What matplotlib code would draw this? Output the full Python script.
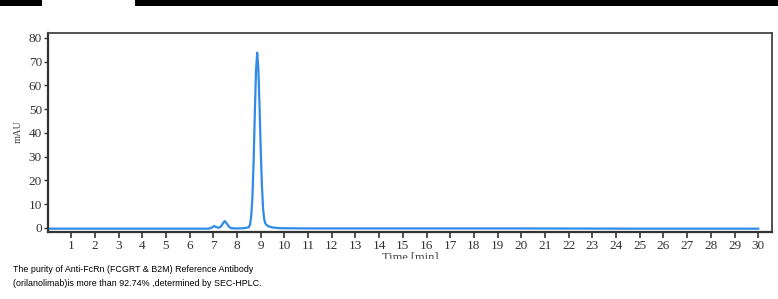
import matplotlib
matplotlib.use("Agg")
import matplotlib.pyplot as plt
from matplotlib.patches import Rectangle

# Chromatogram samples (time in min, signal in mAU)
time_min = [0.05, 2.0, 4.0, 6.0, 6.8, 6.95, 7.03, 7.1, 7.2, 7.3, 7.4, 7.48, 7.56,
            7.65, 7.75, 8.0, 8.3, 8.5, 8.55, 8.6, 8.65, 8.7, 8.75, 8.8, 8.85,
            8.9, 8.95, 9.0, 9.05, 9.1, 9.15, 9.2, 9.3, 9.5, 9.8, 11.0, 15.0,
            20.0, 25.0, 30.0]
signal_mau = [-0.3, -0.3, -0.3, -0.3, -0.3, 0.2, 0.8, 0.5, 0.1, 0.4, 1.8, 2.9, 2.0,
              0.6, -0.1, -0.2, -0.1, 0.3, 1.5, 5.0, 13.0, 28.0, 48.0, 66.0, 73.8,
              67.0, 51.0, 33.0, 18.0, 8.0, 3.5, 1.8, 0.8, 0.2, -0.1, -0.2, -0.2,
              -0.2, -0.3, -0.3]

x_ticks = list(range(1, 31))
y_ticks = [0, 10, 20, 30, 40, 50, 60, 70, 80]
x_label = "Time [min]"
y_label = "mAU"
caption_lines = ["The purity of Anti-FcRn (FCGRT & B2M) Reference Antibody",
                 "(orilanolimab)is more than 92.74% ,determined by SEC-HPLC."]

W, H = 778, 299
fig = plt.figure(figsize=(W / 100, H / 100), dpi=100)
fig.patch.set_facecolor("white")

# black bands at top
fig.patches.append(Rectangle((0, 1 - 6 / H), 42 / W, 6 / H, transform=fig.transFigure,
                             facecolor="black", edgecolor="none", zorder=5))
fig.patches.append(Rectangle((135 / W, 1 - 6 / H), 1 - 135 / W, 6 / H, transform=fig.transFigure,
                             facecolor="black", edgecolor="none", zorder=5))

ax = fig.add_axes([47.5 / W, (H - 232) / H, (772 - 47.5) / W, (232 - 33) / H])
ax.plot(time_min, signal_mau, color="#2f8ae8", lw=1.6, solid_joinstyle="round")
ax.set_xlim(0, 30.58)
ax.set_ylim(-1.7, 82.1)
ax.set_xticks(x_ticks)
ax.set_yticks(y_ticks)

serif = ["Liberation Serif", "DejaVu Serif"]
ax.set_xticklabels([str(t) for t in x_ticks], fontsize=9.5, family=serif, color="#333333")
ax.set_yticklabels([str(t) for t in y_ticks], fontsize=9.5, family=serif, color="#333333")
ax.tick_params(axis="x", direction="out", length=4, width=1.2, color="#333333", pad=2)
ax.tick_params(axis="y", direction="out", length=3, width=1.0, color="#333333", pad=1)

for side in ["left", "bottom"]:
    ax.spines[side].set_linewidth(1.6)
    ax.spines[side].set_color("#333333")
for side in ["top", "right"]:
    ax.spines[side].set_linewidth(1.3)
    ax.spines[side].set_color("#444444")

fig.text(18 / W, 1 - 132 / H, y_label, rotation=90, ha="center", va="center",
         fontsize=7.5, family=serif, color="#444444")
fig.text(410 / W, 1 - 252 / H, x_label, ha="center", va="top",
         fontsize=9, family=serif, color="#444444")
# white band cropping the lower part of the x label
fig.patches.append(Rectangle((0, 0), 1, (H - 259) / H, transform=fig.transFigure,
                             facecolor="white", edgecolor="none", zorder=5))

for i, line in enumerate(caption_lines):
    fig.text(13 / W, 1 - (270 + 13 * i) / H, line, ha="left", va="center",
             fontsize=6.4, family=["Liberation Sans", "DejaVu Sans"], color="black", zorder=6)

fig.savefig("out.png", dpi=100)
